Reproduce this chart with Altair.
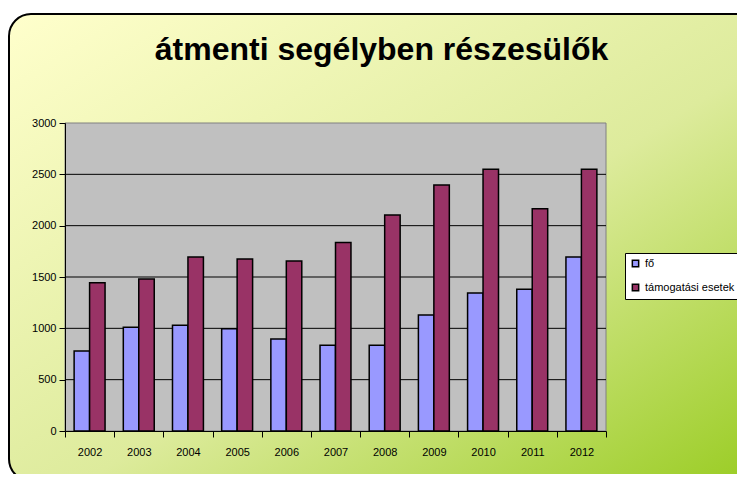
import altair as alt
import pandas as pd

# ---- data ----
years = ["2002", "2003", "2004", "2005", "2006", "2007", "2008", "2009", "2010", "2011", "2012"]
fo = [780, 1010, 1030, 995, 895, 835, 835, 1130, 1345, 1380, 1695]
tamogatasi = [1445, 1480, 1695, 1675, 1655, 1835, 2105, 2395, 2550, 2165, 2550]
series_names = ["fő", "támogatási esetek"]
series_colors = ["#9999FF", "#993366"]
y_ticks = [0, 500, 1000, 1500, 2000, 2500, 3000]
grid_vals = [500, 1000, 1500, 2000, 2500]
title_text = "átmenti segélyben részesülők"

FONT = "Liberation Sans"
W, H = 541, 308

rows = []
for i, y in enumerate(years):
    rows.append({"year": y, "series": series_names[0], "value": fo[i]})
    rows.append({"year": y, "series": series_names[1], "value": tamogatasi[i]})
df = pd.DataFrame(rows)

yscale = alt.Scale(domain=[0, 3000], nice=False)
xscale = alt.Scale(paddingInner=0, paddingOuter=0)

one = alt.Data(values=[{"k": 1}])

# background: rounded, gradient panel
bg = alt.Chart(one).mark_rect(
    fill={
        "gradient": "linear",
        "x1": 0, "y1": 0, "x2": 1, "y2": 1,
        "stops": [
            {"offset": 0, "color": "#FFFFCC"},
            {"offset": 0.55, "color": "#DDEB9C"},
            {"offset": 1, "color": "#99CC22"},
        ],
    },
    stroke="black",
    strokeWidth=2,
    cornerRadius=22,
).encode(
    x=alt.value(-56), x2=alt.value(700),
    y=alt.value(-109), y2=alt.value(358),
)

# plot area
plotbg = alt.Chart(one).mark_rect(
    fill="#C0C0C0", stroke="#808080", strokeWidth=1
).encode(
    x=alt.value(0), x2=alt.value(W), y=alt.value(0), y2=alt.value(H)
)

grid = alt.Chart(pd.DataFrame({"value": grid_vals})).mark_rule(
    color="black", strokeWidth=1
).encode(y=alt.Y("value:Q", scale=yscale))

bars = alt.Chart(df).mark_bar(stroke="black", strokeWidth=1.5).encode(
    x=alt.X(
        "year:O", scale=xscale, sort=years,
        axis=alt.Axis(
            title=None, labelAngle=0, tickBand="extent", tickSize=6,
            tickColor="black", domainColor="black", labelPadding=9,
            labelFontSize=11, labelFont=FONT, labelColor="black",
            grid=False, zindex=1,
        ),
    ),
    xOffset=alt.XOffset(
        "series:N", sort=series_names,
        scale=alt.Scale(paddingOuter=0.59, paddingInner=0),
    ),
    y=alt.Y(
        "value:Q", scale=yscale,
        axis=alt.Axis(
            title=None, values=y_ticks, format="d", tickSize=6, tickColor="black",
            domainColor="black", labelPadding=3, labelFontSize=11,
            labelFont=FONT, labelColor="black", grid=False, zindex=1,
        ),
    ),
    color=alt.Color(
        "series:N",
        scale=alt.Scale(domain=series_names, range=series_colors),
        legend=alt.Legend(
            title=None, orient="none", legendX=560, legendY=130,
            fillColor="white", strokeColor="black", padding=5,
            symbolType="square", symbolSize=40, symbolStrokeColor="black",
            symbolStrokeWidth=1.5, labelFontSize=11, labelFont=FONT,
            labelColor="black", rowPadding=11, labelOffset=4, zindex=1,
        ),
    ),
)

chart = alt.layer(bg, plotbg, grid, bars).properties(
    width=W,
    height=H,
    title=alt.TitleParams(
        text=title_text, fontSize=32, font=FONT, fontWeight="bold",
        color="black", anchor="middle", frame="group", dx=46, offset=0,
        dy=79, baseline="alphabetic", zindex=1,
    ),
    autosize=alt.AutoSizeParams(type="none"),
    padding={"left": 57, "top": 115, "right": 131, "bottom": 43},
).configure_view(stroke=None).configure(background="white")

chart.save("out.html", embed_options={"renderer": "svg", "actions": False})
